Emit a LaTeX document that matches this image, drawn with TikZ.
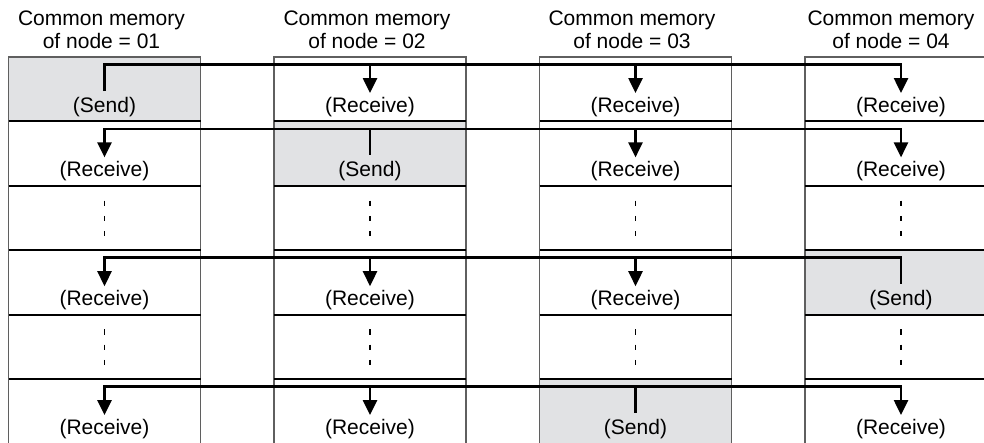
\documentclass[tikz,border=0pt]{standalone}
\usepackage{fontspec}
\setmainfont{Liberation Sans}
\usetikzlibrary{arrows.meta,calc}

\definecolor{sendgray}{RGB}{225,226,228}
\definecolor{framegray}{RGB}{95,95,95}

\tikzset{
  cell/.style={rectangle, draw=framegray, line width=1.2pt, minimum width=192pt,
    minimum height=64.4pt, inner sep=0pt, outer sep=0pt},
  sendcell/.style={cell, fill=sendgray},
  txt/.style={anchor=base, inner sep=0pt, outer xsep=0pt, outer ysep=4pt,
    text height=15pt, text depth=4.5pt, font=\fontsize{21}{23}\selectfont},
  sendtxt/.style={txt, outer ysep=6pt},
  head/.style={anchor=base, inner sep=0pt, font=\fontsize{21}{23}\selectfont},
  rowline/.style={line width=2pt},
  bus/.style={line width=2.6pt},
  dots/.style={line width=1.3pt, dash pattern=on 5.3pt off 10pt}
}

\begin{document}
\begin{tikzpicture}[x=1pt, y=-1pt, >={Triangle[length=15pt,width=14pt]}]
\useasboundingbox (0,0) rectangle (984,442);
\clip (0,0) rectangle (984,442);

%headers
\node (h1a) [head] at (101.5,25) {Common memory};
\node (h1b) [head] at (101.5,48) {of node = 01};
\node (h2a) [head] at (367,25) {Common memory};
\node (h2b) [head] at (367,48) {of node = 02};
\node (h3a) [head] at (632,25) {Common memory};
\node (h3b) [head] at (632,48) {of node = 03};
\node (h4a) [head] at (891,25) {Common memory};
\node (h4b) [head] at (891,48) {of node = 04};

%row 1
\node (c1r1) [sendcell] at (104.5,89.2) {};
\node (c2r1) [cell] at ($(c1r1)+(265.5,0)$) {};
\node (c3r1) [cell] at ($(c2r1)+(265.5,0)$) {};
\node (c4r1) [cell] at ($(c3r1)+(265.5,0)$) {};

%row 2
\node (c1r2) [cell] at ($(c1r1)+(0,64.4)$) {};
\node (c2r2) [sendcell] at ($(c2r1)+(0,64.4)$) {};
\node (c3r2) [cell] at ($(c3r1)+(0,64.4)$) {};
\node (c4r2) [cell] at ($(c4r1)+(0,64.4)$) {};

%row 3
\node (c1r3) [cell] at ($(c1r2)+(0,64.4)$) {};
\node (c2r3) [cell] at ($(c2r2)+(0,64.4)$) {};
\node (c3r3) [cell] at ($(c3r2)+(0,64.4)$) {};
\node (c4r3) [cell] at ($(c4r2)+(0,64.4)$) {};

%row 4
\node (c1r4) [cell] at ($(c1r3)+(0,64.4)$) {};
\node (c2r4) [cell] at ($(c2r3)+(0,64.4)$) {};
\node (c3r4) [cell] at ($(c3r3)+(0,64.4)$) {};
\node (c4r4) [sendcell] at ($(c4r3)+(0,64.4)$) {};

%row 5
\node (c1r5) [cell] at ($(c1r4)+(0,64.4)$) {};
\node (c2r5) [cell] at ($(c2r4)+(0,64.4)$) {};
\node (c3r5) [cell] at ($(c3r4)+(0,64.4)$) {};
\node (c4r5) [cell] at ($(c4r4)+(0,64.4)$) {};

%row 6
\node (c1r6) [cell] at ($(c1r5)+(0,64.4)$) {};
\node (c2r6) [cell] at ($(c2r5)+(0,64.4)$) {};
\node (c3r6) [sendcell] at ($(c3r5)+(0,64.4)$) {};
\node (c4r6) [cell] at ($(c4r5)+(0,64.4)$) {};

%row lines
\draw [rowline] (c1r1.south west) -- (c1r1.south east) (c2r1.south west) -- (c2r1.south east)
  (c3r1.south west) -- (c3r1.south east) (c4r1.south west) -- (c4r1.south east);
\draw [rowline] (c1r2.south west) -- (c1r2.south east) (c2r2.south west) -- (c2r2.south east)
  (c3r2.south west) -- (c3r2.south east) (c4r2.south west) -- (c4r2.south east);
\draw [rowline] (c1r3.south west) -- (c1r3.south east) (c2r3.south west) -- (c2r3.south east)
  (c3r3.south west) -- (c3r3.south east) (c4r3.south west) -- (c4r3.south east);
\draw [rowline] (c1r4.south west) -- (c1r4.south east) (c2r4.south west) -- (c2r4.south east)
  (c3r4.south west) -- (c3r4.south east) (c4r4.south west) -- (c4r4.south east);
\draw [rowline] (c1r5.south west) -- (c1r5.south east) (c2r5.south west) -- (c2r5.south east)
  (c3r5.south west) -- (c3r5.south east) (c4r5.south west) -- (c4r5.south east);

%dots
\draw [dots] ($(c1r3.north)+(0,14.7)$) -- ($(c1r3.north)+(0,51)$)
  ($(c2r3.north)+(0,14.7)$) -- ($(c2r3.north)+(0,51)$)
  ($(c3r3.north)+(0,14.7)$) -- ($(c3r3.north)+(0,51)$)
  ($(c4r3.north)+(0,14.7)$) -- ($(c4r3.north)+(0,51)$);
\draw [dots] ($(c1r5.north)+(0,14.7)$) -- ($(c1r5.north)+(0,51)$)
  ($(c2r5.north)+(0,14.7)$) -- ($(c2r5.north)+(0,51)$)
  ($(c3r5.north)+(0,14.7)$) -- ($(c3r5.north)+(0,51)$)
  ($(c4r5.north)+(0,14.7)$) -- ($(c4r5.north)+(0,51)$);

%labels
\node (t1r1) [sendtxt] at ($(c1r1.north)+(0,55)$) {(Send)};
\node (t2r1) [txt] at ($(c2r1.north)+(0,55)$) {(Receive)};
\node (t3r1) [txt] at ($(c3r1.north)+(0,55)$) {(Receive)};
\node (t4r1) [txt] at ($(c4r1.north)+(0,55)$) {(Receive)};

\node (t1r2) [txt] at ($(c1r2.north)+(0,55)$) {(Receive)};
\node (t2r2) [sendtxt] at ($(c2r2.north)+(0,55)$) {(Send)};
\node (t3r2) [txt] at ($(c3r2.north)+(0,55)$) {(Receive)};
\node (t4r2) [txt] at ($(c4r2.north)+(0,55)$) {(Receive)};

\node (t1r4) [txt] at ($(c1r4.north)+(0,55)$) {(Receive)};
\node (t2r4) [txt] at ($(c2r4.north)+(0,55)$) {(Receive)};
\node (t3r4) [txt] at ($(c3r4.north)+(0,55)$) {(Receive)};
\node (t4r4) [sendtxt] at ($(c4r4.north)+(0,55)$) {(Send)};

\node (t1r6) [txt] at ($(c1r6.north)+(0,55)$) {(Receive)};
\node (t2r6) [txt] at ($(c2r6.north)+(0,55)$) {(Receive)};
\node (t3r6) [sendtxt] at ($(c3r6.north)+(0,55)$) {(Send)};
\node (t4r6) [txt] at ($(c4r6.north)+(0,55)$) {(Receive)};

%bus lines
\coordinate (e1) at ($(c4r1.north)+(0,7.5)$);
\coordinate (e2) at ($(c4r2.north)+(0,7.5)$);
\coordinate (e4) at ($(c4r4.north)+(0,7.5)$);
\coordinate (e6) at ($(c4r6.north)+(0,7.5)$);

\draw [bus,->] (t1r1) |- (e1) -- (t4r1);
\draw [bus,->] (t2r1 |- e1) -- (t2r1);
\draw [bus,->] (t3r1 |- e1) -- (t3r1);

\draw [bus,<->] (t1r2) |- (e2) -- (t4r2);
\draw [bus] (t2r2 |- e2) -- (t2r2);
\draw [bus,->] (t3r2 |- e2) -- (t3r2);

\draw [bus,<-] (t1r4) |- (e4) -- (t4r4);
\draw [bus,->] (t2r4 |- e4) -- (t2r4);
\draw [bus,->] (t3r4 |- e4) -- (t3r4);

\draw [bus,<->] (t1r6) |- (e6) -- (t4r6);
\draw [bus,->] (t2r6 |- e6) -- (t2r6);
\draw [bus] (t3r6 |- e6) -- (t3r6);

\end{tikzpicture}
\end{document}
